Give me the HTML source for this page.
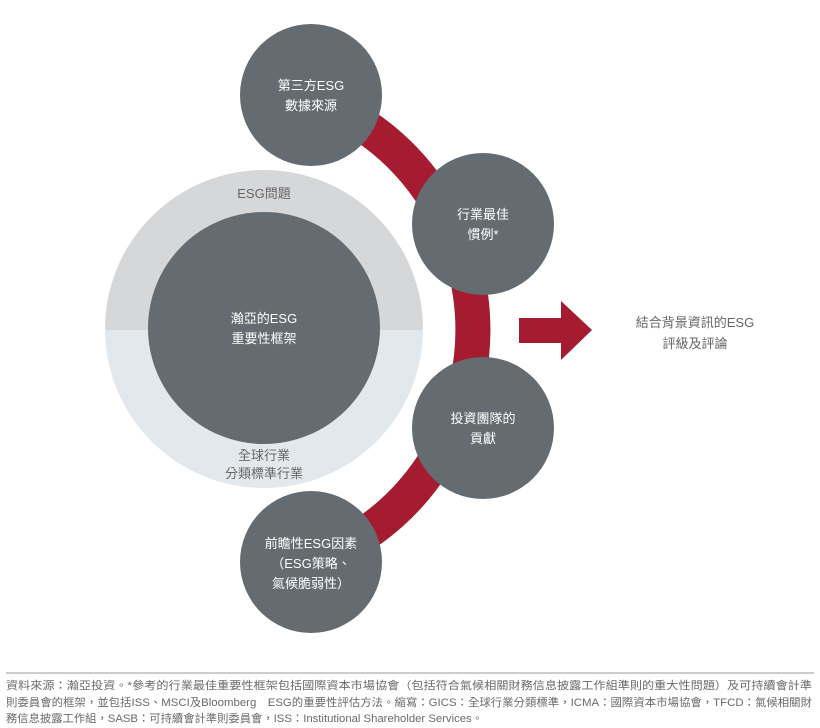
<!DOCTYPE html>
<html><head><meta charset="utf-8"><style>
body{margin:0;width:820px;height:728px;background:#fff;overflow:hidden;font-family:"Liberation Sans","Noto Sans CJK TC",sans-serif}
</style></head><body>
<svg width="820" height="728" style="position:absolute;left:0;top:0" font-family="Liberation Sans, Noto Sans CJK TC, sans-serif">
<defs><clipPath id="top"><rect x="0" y="0" width="820" height="330"/></clipPath><clipPath id="bot"><rect x="0" y="330" width="820" height="400"/></clipPath></defs>
<circle cx="264" cy="329" r="159" fill="#d6d7d9" clip-path="url(#top)"/>
<circle cx="264" cy="329" r="159" fill="#e3e8ec" clip-path="url(#bot)"/>
<circle cx="264" cy="328" r="116" fill="#646c71"/>
<path d="M 350 117 A 246 246 0 0 1 350 543" fill="none" stroke="#a51c30" stroke-width="35"/>
<rect x="519" y="318" width="43" height="25" fill="#a51c30"/>
<polygon points="561,301 592,330 561,360" fill="#a51c30"/>
<circle cx="311" cy="95" r="71" fill="#646c71"/>
<circle cx="483" cy="224" r="71" fill="#646c71"/>
<circle cx="483" cy="428" r="71" fill="#646c71"/>
<circle cx="311" cy="562" r="71" fill="#646c71"/>
<g font-size="13" text-anchor="middle" fill="#fff">
<text x="311" y="90">第三方ESG</text><text x="311" y="110">數據來源</text>
<text x="483" y="219">行業最佳</text><text x="483" y="239">慣例*</text>
<text x="483" y="423">投資團隊的</text><text x="483" y="443">貢獻</text>
<text x="311" y="548">前瞻性ESG因素</text><text x="311" y="568">（ESG策略、</text><text x="311" y="588">氣候脆弱性）</text>
<text x="264" y="323">瀚亞的ESG</text><text x="264" y="343">重要性框架</text>
</g>
<g font-size="13" text-anchor="middle" fill="#666">
<text x="264" y="198">ESG問題</text>
<text x="264" y="460">全球行業</text><text x="264" y="478">分類標準行業</text>
<text x="695" y="327">結合背景資訊的ESG</text><text x="695" y="348">評級及評論</text>
</g>
<line x1="6" y1="673" x2="814" y2="673" stroke="#999" stroke-width="1"/>
<g font-size="11" fill="#6a6a6a">
<text x="6" y="689" textLength="806" lengthAdjust="spacingAndGlyphs">資料來源：瀚亞投資。*參考的行業最佳重要性框架包括國際資本市場協會（包括符合氣候相關財務信息披露工作組準則的重大性問題）及可持續會計準</text>
<text x="6" y="706" textLength="806" lengthAdjust="spacingAndGlyphs">則委員會的框架，並包括ISS、MSCI及Bloomberg　ESG的重要性評估方法。縮寫：GICS：全球行業分類標準，ICMA：國際資本市場協會，TFCD：氣候相關財</text>
<text x="6" y="722" textLength="477" lengthAdjust="spacingAndGlyphs">務信息披露工作組，SASB：可持續會計準則委員會，ISS：Institutional Shareholder Services。</text>
</g>
</svg>
</body></html>
